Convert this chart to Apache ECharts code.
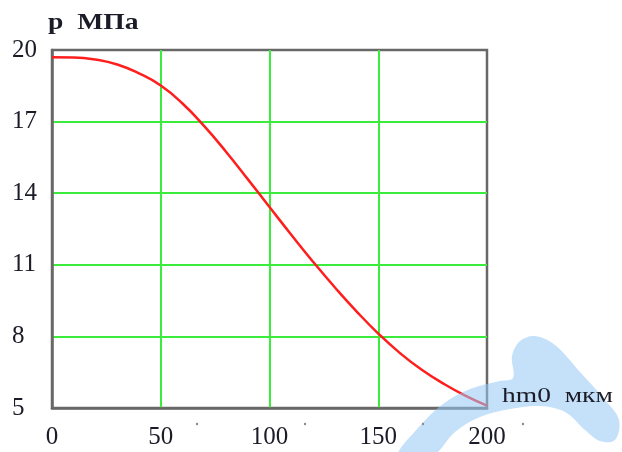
<!DOCTYPE html>
<html>
<head>
<meta charset="utf-8">
<script src="https://cdn.jsdelivr.net/npm/echarts@6/dist/echarts.min.js"></script>
<style>
  html, body { margin: 0; padding: 0; background: #fff; }
  #chart { width: 622px; height: 452px; }
</style>
</head>
<body>
<div id="chart"></div>
<script>
// Film thickness hm0 (мкм) and pressure p (МПа)
const hm0 = [0, 10, 20, 30, 40, 50, 60, 70, 80, 90, 100, 110, 120, 130, 140, 150, 160, 170, 180, 190, 200];
const pressure = [19.70, 19.69, 19.60, 19.39, 19.02, 18.51, 17.76, 16.81, 15.74, 14.59, 13.42, 12.26, 11.13, 10.06, 9.05, 8.12, 7.30, 6.60, 6.02, 5.52, 5.10];

const xTicks = [0, 50, 100, 150, 200];
const yTicks = [5, 8, 11, 14, 17, 20];

const yLabel = 'p  МПа';
const xLabel = 'hm0  мкм';

const serif = '"Liberation Serif", "Times New Roman", serif';
const textColor = '#1b1c28';
const gridGreen = '#3cec3c';
const frameGray = '#686868';

const chart = echarts.init(document.getElementById('chart'), null, { renderer: 'canvas' });

const xRange = {
  type: 'value',
  min: xTicks[0],
  max: xTicks[xTicks.length - 1],
  interval: xTicks[1] - xTicks[0]
};

const labelFont = {
  fontFamily: serif,
  fontSize: 25,
  color: textColor
};

// outline of the pale blue swoosh in the lower right corner
const swoosh = [
  [398, 456], [418, 428], [443, 404], [470, 389], [500, 381], [513, 378],
  [512, 356], [520, 341], [535, 336], [555, 345], [580, 372], [605, 400],
  [619, 420], [615, 440], [600, 441], [585, 430], [565, 412], [540, 406],
  [510, 409], [480, 417], [455, 432], [432, 456]
];

// faint specks below the axis
const specks = [[197, 424], [305, 424], [423, 424], [523, 424]];

chart.setOption({
  animation: false,
  backgroundColor: '#fff',
  grid: {
    left: 52, right: 135, top: 50, bottom: 44,
    show: true,
    borderColor: frameGray,
    borderWidth: 2.5
  },
  xAxis: [
    Object.assign({}, xRange, {
      axisLine: { show: true, lineStyle: { color: frameGray, width: 2.5 } },
      axisTick: { show: false },
      axisLabel: { show: false },
      splitLine: { show: true, showMinLine: false, showMaxLine: false, lineStyle: { color: gridGreen, width: 2 } }
    }),
    // tick labels on their own axis so they sit above the swoosh
    Object.assign({}, xRange, {
      position: 'bottom',
      z: 6,
      axisLine: { show: false },
      axisTick: { show: false },
      splitLine: { show: false },
      axisLabel: Object.assign({ show: true, margin: 17, showMinLabel: true, showMaxLabel: true }, labelFont)
    })
  ],
  yAxis: {
    type: 'value',
    min: yTicks[0],
    max: yTicks[yTicks.length - 1],
    interval: yTicks[1] - yTicks[0],
    axisLine: { show: true, lineStyle: { color: frameGray, width: 2.5 } },
    axisTick: { show: false },
    axisLabel: Object.assign({ margin: 40, align: 'left' }, labelFont),
    splitLine: { show: true, showMinLine: false, showMaxLine: false, lineStyle: { color: gridGreen, width: 2 } }
  },
  series: [{
    type: 'line',
    xAxisIndex: 0,
    data: hm0.map((h, i) => [h, pressure[i]]),
    smooth: 0.5,
    showSymbol: false,
    z: 2,
    lineStyle: { color: '#ff1e1e', width: 2.5 }
  }],
  graphic: [
    {
      type: 'polygon',
      z: 4,
      silent: true,
      shape: { points: swoosh, smooth: 0.35 },
      style: { fill: 'rgba(150, 200, 245, 0.55)' }
    },
    {
      type: 'text',
      z: 10,
      left: 48,
      top: 11,
      scaleX: 1.15,
      style: { text: yLabel, font: 'bold 24px ' + serif, fill: textColor }
    },
    {
      type: 'text',
      z: 10,
      left: 502,
      top: 385,
      scaleX: 1.25,
      style: { text: xLabel, font: '22px ' + serif, fill: textColor }
    }
  ].concat(specks.map(([x, y]) => ({
    type: 'circle',
    z: 10,
    silent: true,
    shape: { cx: x, cy: y, r: 1.2 },
    style: { fill: '#8a8a8a' }
  })))
});
</script>
</body>
</html>
